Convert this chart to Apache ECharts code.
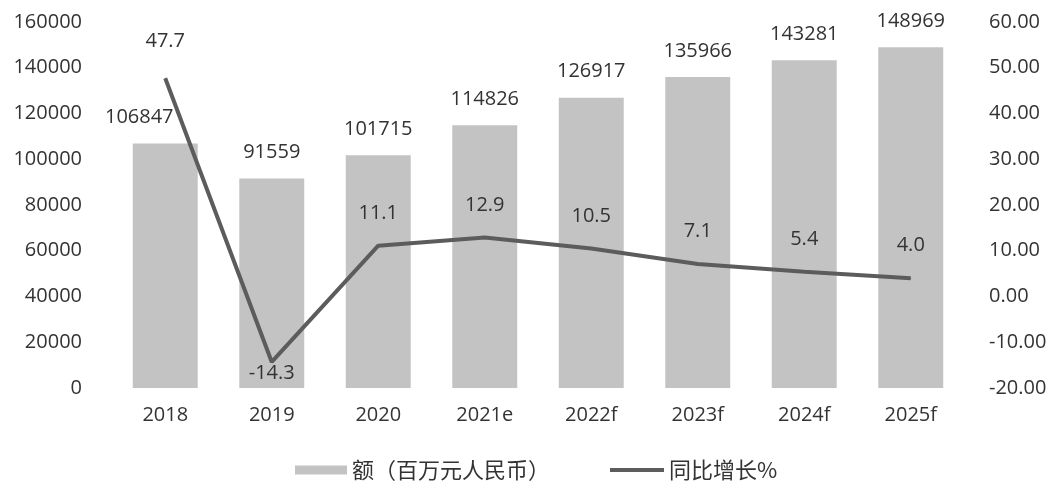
<!DOCTYPE html>
<html>
<head>
<meta charset="utf-8">
<script src="https://cdn.jsdelivr.net/npm/echarts@6/dist/echarts.min.js"></script>
<style>
  html, body { margin: 0; padding: 0; background: #ffffff; }
  #chart { width: 1051px; height: 489px; }
</style>
</head>
<body>
<div id="chart"></div>
<script>
// Years (e = estimate, f = forecast)
const categories = ['2018', '2019', '2020', '2021e', '2022f', '2023f', '2024f', '2025f'];
// Amount, million RMB
const amounts = [106847, 91559, 101715, 114826, 126917, 135966, 143281, 148969];
// Year-on-year growth, %
const growth = [47.7, -14.3, 11.1, 12.9, 10.5, 7.1, 5.4, 4.0];

const barName = '额（百万元人民币）';
const lineName = '同比增长%';

const textColor = '#333333';
const baseFont = '"Open Sans", "Noto Sans", sans-serif';
const cjkFont = '"Noto Sans CJK SC", sans-serif';

const chart = echarts.init(document.getElementById('chart'), null, { renderer: 'canvas' });

chart.setOption({
  animation: false,
  backgroundColor: '#ffffff',
  grid: { left: 112, right: 87, top: 22, bottom: 101, containLabel: false },
  legend: [
    {
      data: [{ name: barName, icon: 'rect' }],
      left: 290, top: 454,
      itemWidth: 52, itemHeight: 9, itemGap: 8,
      textStyle: { fontFamily: cjkFont, fontSize: 22, color: textColor, letterSpacing: 1 }
    },
    {
      data: [{ name: lineName, icon: 'rect' }],
      left: 605, top: 454,
      itemWidth: 54, itemHeight: 4, itemGap: 4,
      textStyle: { fontFamily: cjkFont, fontSize: 22, color: textColor }
    }
  ],
  xAxis: {
    type: 'category',
    data: categories,
    axisLine: { show: false },
    axisTick: { show: false },
    axisLabel: { margin: 17, fontFamily: baseFont, fontSize: 20, color: textColor }
  },
  yAxis: [
    {
      type: 'value',
      min: 0, max: 160000, interval: 20000,
      axisLine: { show: false },
      axisTick: { show: false },
      splitLine: { show: false },
      axisLabel: {
        margin: 30, fontFamily: baseFont, fontSize: 20, color: textColor,
        formatter: v => String(v)
      }
    },
    {
      type: 'value',
      min: -20, max: 60, interval: 10,
      position: 'right',
      axisLine: { show: false },
      axisTick: { show: false },
      splitLine: { show: false },
      axisLabel: {
        margin: 25, fontFamily: baseFont, fontSize: 20, color: textColor,
        formatter: v => v.toFixed(2)
      }
    }
  ],
  series: [
    {
      name: barName,
      type: 'bar',
      yAxisIndex: 0,
      barWidth: '61%',
      itemStyle: { color: '#c3c3c3' },
      label: {
        show: true, position: 'top', distance: 16,
        fontFamily: baseFont, fontSize: 20, color: textColor
      },
      data: amounts.map((v, i) => i === 0
        ? { value: v, label: { offset: [-26, 0] } }
        : v)
    },
    {
      name: lineName,
      type: 'line',
      yAxisIndex: 1,
      symbol: 'circle',
      symbolSize: 1,
      lineStyle: { color: '#5c5c5c', width: 4 },
      itemStyle: { color: '#5c5c5c' },
      label: {
        show: true, position: 'top', distance: 22,
        fontFamily: baseFont, fontSize: 20, color: textColor,
        formatter: p => p.value.toFixed(1)
      },
      data: growth.map((v, i) => {
        if (i === 0) return { value: v, label: { distance: 26 } };
        if (v < 0) return { value: v, label: { position: 'bottom', distance: 1 } };
        return v;
      }),
      z: 5
    }
  ]
});
</script>
</body>
</html>
